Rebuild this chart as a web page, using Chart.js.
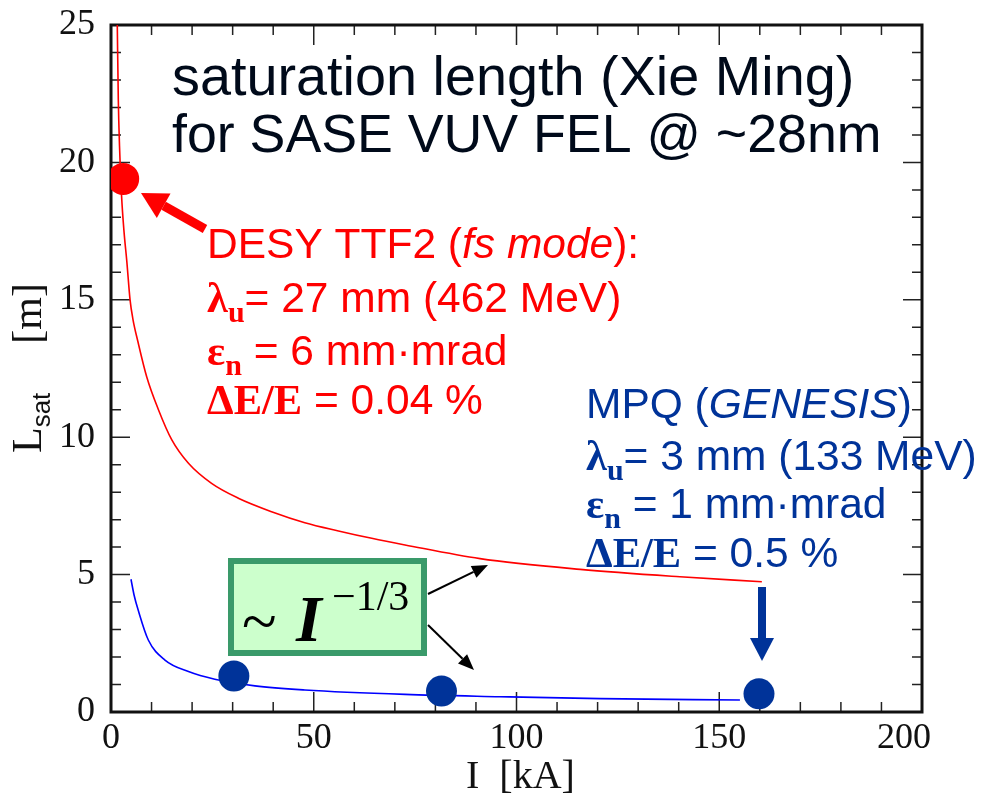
<!DOCTYPE html>
<html>
<head>
<meta charset="utf-8">
<script src="https://cdn.jsdelivr.net/npm/chart.js@4.4.1/dist/chart.umd.min.js"></script>
<style>
html, body { margin: 0; padding: 0; background: #fff; }
canvas { display: block; }
</style>
</head>
<body>
<canvas id="c" width="981" height="807"></canvas>
<script>
// beam current I [kA] against saturation length L_sat [m]
const ttf2I = [1.55, 1.8, 2.1, 2.6, 3.2, 3.9, 4.7, 5.4, 6.6, 8.8, 11.7, 15.0, 19.1, 24.8, 31.4, 39.6, 47.8, 56.1, 64.3, 72.5, 91.0, 115.7, 140.3, 160.5];
const ttf2L = [25.0, 22.3, 20.6, 18.8, 17.5, 16.4, 15.0, 14.3, 13.5, 12.2, 11.0, 9.9, 9.05, 8.32, 7.78, 7.29, 6.89, 6.59, 6.32, 6.08, 5.58, 5.19, 4.92, 4.74];

const mpqI = [4.93, 5.7, 6.7, 9.2, 13.3, 19.1, 25.6, 35.5, 47.8, 72.5, 95.9, 120.6, 155.1];
const mpqL = [4.83, 4.25, 3.71, 2.62, 1.89, 1.47, 1.19, 0.95, 0.80, 0.64, 0.557, 0.485, 0.437];

const ttf2DotI = [3.0];
const ttf2DotL = [19.4];
const mpqDotI = [30.3, 81.5, 159.8];
const mpqDotL = [1.31, 0.76, 0.66];

const xTicks = [0, 50, 100, 150, 200];
const yTicks = [0, 5, 10, 15, 20, 25];

const SANS = '"Liberation Sans", Arial, sans-serif';
const SERIF = '"Liberation Serif", "Times New Roman", serif';
const RED = '#ff0000';
const BLUE = '#003399';

const pts = (xs, ys) => xs.map((x, i) => ({ x: x, y: ys[i] }));

function runs(ctx, x, y, parts, color) {
  ctx.fillStyle = color;
  ctx.textAlign = 'left';
  ctx.textBaseline = 'alphabetic';
  for (const [t, font, dy] of parts) {
    ctx.font = font;
    ctx.fillText(t, x, y + (dy || 0));
    x += ctx.measureText(t).width;
  }
}

function arrow(ctx, x1, y1, x2, y2, w, headL, headW, color) {
  const a = Math.atan2(y2 - y1, x2 - x1);
  const bx = x2 - headL * Math.cos(a), by = y2 - headL * Math.sin(a);
  ctx.strokeStyle = color;
  ctx.lineWidth = w;
  ctx.lineCap = 'butt';
  ctx.beginPath();
  ctx.moveTo(x1, y1);
  ctx.lineTo(bx, by);
  ctx.stroke();
  ctx.fillStyle = color;
  ctx.beginPath();
  ctx.moveTo(x2, y2);
  ctx.lineTo(bx + headW / 2 * Math.sin(a), by - headW / 2 * Math.cos(a));
  ctx.lineTo(bx - headW / 2 * Math.sin(a), by + headW / 2 * Math.cos(a));
  ctx.closePath();
  ctx.fill();
}

// inward tick marks on all four sides plus the frame
const frame = {
  id: 'frame',
  beforeDatasetsDraw(chart) {
    const { ctx, chartArea: a, scales: { x, y } } = chart;
    ctx.save();
    ctx.strokeStyle = '#222';
    ctx.lineWidth = 1.5;
    ctx.beginPath();
    for (let v = 0; v <= 200; v += 10) {
      const px = x.getPixelForValue(v);
      const len = v % 50 === 0 ? 20 : 10;
      ctx.moveTo(px, a.bottom); ctx.lineTo(px, a.bottom - len);
      ctx.moveTo(px, a.top); ctx.lineTo(px, a.top + len);
    }
    for (let v = 0; v <= 25; v += 1) {
      const py = y.getPixelForValue(v);
      const len = v % 5 === 0 ? 19 : 10;
      ctx.moveTo(a.left, py); ctx.lineTo(a.left + len, py);
      ctx.moveTo(a.right, py); ctx.lineTo(a.right - len, py);
    }
    ctx.stroke();
    ctx.lineWidth = 3;
    ctx.strokeStyle = '#111';
    ctx.strokeRect(a.left, a.top, a.right - a.left, a.bottom - a.top);
    ctx.restore();
  }
};

const notes = {
  id: 'notes',
  afterDraw(chart) {
    const ctx = chart.ctx;
    ctx.save();

    // axis titles
    runs(ctx, 466, 788, [['I  [kA]', '40px ' + SERIF]], '#111');
    ctx.save();
    ctx.translate(41, 453);
    ctx.rotate(-Math.PI / 2);
    runs(ctx, 0, 0, [['L', '42px ' + SERIF], ['sat', '26px ' + SANS, 9]], '#111');
    ctx.font = '42px ' + SERIF;
    ctx.textAlign = 'right';
    ctx.fillText('[m]', 170, 0);
    ctx.restore();

    // title
    runs(ctx, 172, 95, [['saturation length (Xie Ming)', '55.8px ' + SANS]], '#000a1a');
    runs(ctx, 172, 152, [['for SASE VUV FEL @ ~28nm', '53.7px ' + SANS]], '#000a1a');

    // DESY TTF2 block
    const f = '42.5px ' + SANS, fi = 'italic 42.5px ' + SANS;
    const g = 'bold 42.5px ' + SERIF, gs = 'bold 30px ' + SERIF;
    runs(ctx, 207, 258, [['DESY TTF2 (', f], ['fs mode', fi], ['):', f]], RED);
    runs(ctx, 207, 312, [['\u03bb', g], ['u', gs, 10], ['= 27 mm (462 MeV)', f]], RED);
    runs(ctx, 207, 365, [['\u03b5', g], ['n', gs, 10], [' = 6 mm\u00b7mrad', f]], RED);
    runs(ctx, 207, 414, [['\u0394E/E', g], [' = 0.04 %', f]], RED);

    // MPQ block
    runs(ctx, 586, 418, [['MPQ (', f], ['GENESIS', fi], [')', f]], BLUE);
    runs(ctx, 586, 470, [['\u03bb', g], ['u', gs, 10], ['= 3 mm (133 MeV)', f]], BLUE);
    runs(ctx, 586, 518, [['\u03b5', g], ['n', gs, 10], [' = 1 mm\u00b7mrad', f]], BLUE);
    runs(ctx, 586, 567, [['\u0394E/E', g], [' = 0.5 %', f]], BLUE);

    // scaling box
    ctx.fillStyle = '#ccffcc';
    ctx.fillRect(228, 558, 199, 98);
    ctx.strokeStyle = '#3a9a6a';
    ctx.lineWidth = 6;
    ctx.strokeRect(231, 561, 193, 92);
    runs(ctx, 242, 643, [['~', '64px ' + SERIF]], '#000');
    runs(ctx, 296, 641, [['I', 'italic bold 66px ' + SERIF]], '#000');
    runs(ctx, 332, 610, [['\u22121/3', '42px ' + SERIF]], '#000');

    // arrows
    arrow(ctx, 428, 594, 488, 565, 2, 16, 13, '#000');
    arrow(ctx, 428, 625, 474, 670, 2, 16, 13, '#000');
    arrow(ctx, 205, 229, 141, 193, 9, 26, 28, RED);
    arrow(ctx, 762, 587, 762, 661, 8, 23, 24, BLUE);

    ctx.restore();
  }
};

const tickFont = { family: SERIF, size: 36 };

new Chart(document.getElementById('c').getContext('2d'), {
  type: 'scatter',
  data: {
    datasets: [
      {
        label: 'TTF2 dot', data: pts(ttf2DotI, ttf2DotL), order: 0,
        pointRadius: 16, pointBackgroundColor: RED, pointBorderWidth: 0
      },
      {
        label: 'MPQ dots', data: pts(mpqDotI, mpqDotL), order: 0,
        pointRadius: 15.5, pointBackgroundColor: BLUE, pointBorderWidth: 0
      },
      {
        label: 'DESY TTF2', data: pts(ttf2I, ttf2L), order: 1, showLine: true,
        borderColor: '#ff0000', borderWidth: 1.6, pointRadius: 0,
        cubicInterpolationMode: 'monotone'
      },
      {
        label: 'MPQ', data: pts(mpqI, mpqL), order: 1, showLine: true,
        borderColor: '#0000ff', borderWidth: 1.6, pointRadius: 0,
        cubicInterpolationMode: 'monotone'
      }
    ]
  },
  options: {
    responsive: false,
    animation: false,
    devicePixelRatio: 1,
    layout: { autoPadding: false, padding: { left: 0, top: 25, right: 59, bottom: 0 } },
    plugins: { legend: { display: false }, tooltip: { enabled: false } },
    scales: {
      x: {
        type: 'linear', min: 0, max: 200,
        afterBuildTicks: s => { s.ticks = xTicks.map(v => ({ value: v })); },
        afterFit: s => { s.height = 95; s.paddingLeft = 0; s.paddingRight = 0; },
        ticks: {
          font: tickFont, color: '#111', padding: 5, maxRotation: 0,
          // the last label sits a little left of its tick in the original
          callback: v => (v === 200 ? '200    ' : String(v))
        },
        grid: { display: false, drawTicks: false },
        border: { display: false }
      },
      y: {
        type: 'linear', min: 0, max: 25,
        afterBuildTicks: s => { s.ticks = yTicks.map(v => ({ value: v })); },
        afterFit: s => { s.width = 111; s.paddingTop = 0; s.paddingBottom = 0; },
        ticks: { font: tickFont, color: '#111', padding: 16 },
        grid: { display: false, drawTicks: false },
        border: { display: false }
      }
    }
  },
  plugins: [frame, notes]
});
</script>
</body>
</html>
